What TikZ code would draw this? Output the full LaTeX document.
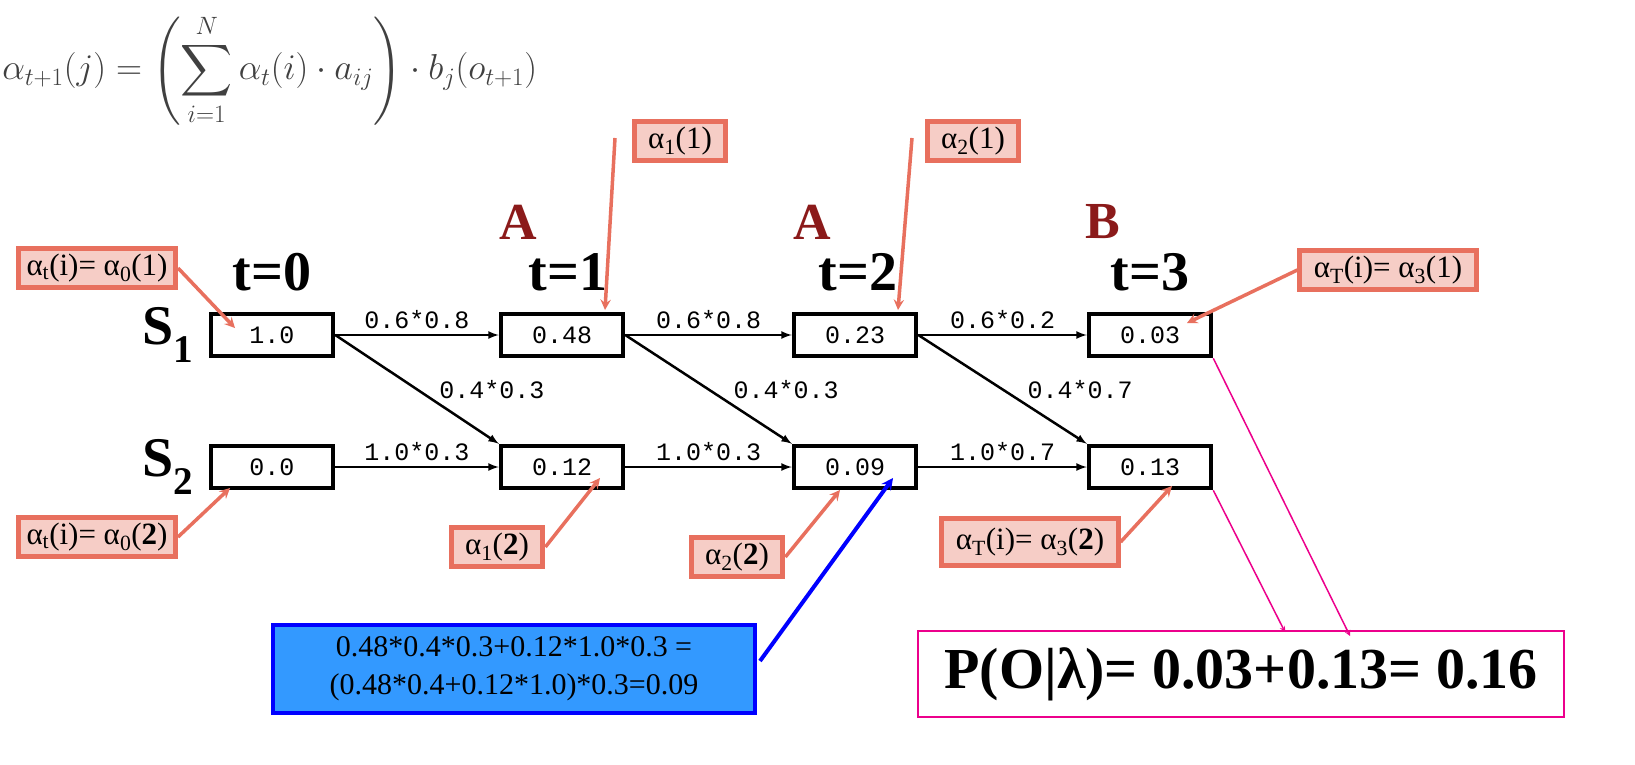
\documentclass[tikz,border=0pt]{standalone}
\usepackage{amsmath}
\usepackage{fontspec}
\setmainfont{Liberation Serif}
\setmonofont{Liberation Mono}
\usepackage{tikz}
\usetikzlibrary{arrows, positioning}
\definecolor{callred}{HTML}{E8705E}
\definecolor{callfill}{HTML}{F6CDC6}
\definecolor{darkred}{HTML}{8B1A1A}
\definecolor{bluefill}{HTML}{3399FF}

\tikzset{
    state/.style={draw, line width=4.5pt, minimum width=122pt, minimum height=42pt, font=\fontsize{25}{27}\selectfont\ttfamily},
    trans/.style={->, >=latex, line width=2.5pt},
    lab/.style={font=\fontsize{25}{27}\selectfont\ttfamily},
    call/.style={draw=callred, fill=callfill, line width=5pt, inner xsep=14pt, inner ysep=5pt, font=\fontsize{31}{33}\selectfont},
    callarrow/.style={->, >=stealth, draw=callred, line width=3.5pt},
    big/.style={font=\fontsize{56}{56}\selectfont\bfseries},
    obs/.style={text=darkred, font=\fontsize{52}{52}\selectfont\bfseries}
}

\begin{document}
\begin{tikzpicture}[x=1pt, y=-1pt]
    \useasboundingbox (0,0) rectangle (1635,765);

    % Formula
    \node [anchor=west, inner sep=0pt, text=black!75, scale=1.45, font=\fontsize{23}{25}\selectfont] (formula) at (2,70)
        {$\displaystyle \alpha_{t+1}(j)=\left(\sum_{i=1}^{N}\alpha_t(i)\cdot a_{ij}\right)\cdot b_j(o_{t+1})$};

    % States
    \node [state] (a10) at (272,335) {1.0};
    \node [state] (a11) at (562,335) {0.48};
    \node [state] (a12) at (855,335) {0.23};
    \node [state] (a13) at (1150,335) {0.03};
    \node [state] (a20) at (272,467) {0.0};
    \node [state] (a21) at (562,467) {0.12};
    \node [state] (a22) at (855,467) {0.09};
    \node [state] (a23) at (1150,467) {0.13};

    \node [big] (s1) at (168,335) {S\textsubscript{1}};
    \node [big] (s2) at (168,467) {S\textsubscript{2}};

    % Times and observations
    \node [big] (t0) at (272,272) {t=0};
    \node [big] (t1) at (568,272) {t=1};
    \node [big] (t2) at (858,272) {t=2};
    \node [big] (t3) at (1150,272) {t=3};
    \node [obs] (o1) at (518,222) {A};
    \node [obs] (o2) at (812,222) {A};
    \node [obs] (o3) at (1103,222) {B};

    % Transitions
    \draw [trans] (a10) -- (a11) node [lab, midway, above=2pt] {0.6*0.8};
    \draw [trans] (a11) -- (a12) node [lab, midway, above=2pt] {0.6*0.8};
    \draw [trans] (a12) -- (a13) node [lab, midway, above=2pt] {0.6*0.2};
    \draw [trans] (a20) -- (a21) node [lab, midway, above=2pt] {1.0*0.3};
    \draw [trans] (a21) -- (a22) node [lab, midway, above=2pt] {1.0*0.3};
    \draw [trans] (a22) -- (a23) node [lab, midway, above=2pt] {1.0*0.7};
    \draw [trans] (a10.east) -- (a21.north west);
    \draw [trans] (a11.east) -- (a22.north west);
    \draw [trans] (a12.east) -- (a23.north west);
    \node [lab] (l1) at (492,390) {0.4*0.3};
    \node [lab] (l2) at (786,390) {0.4*0.3};
    \node [lab] (l3) at (1080,390) {0.4*0.7};

    % Callouts
    \node [call] (c11) at (680,141) {α\textsubscript{1}(1)};
    \node [call] (c21) at (973,141) {α\textsubscript{2}(1)};
    \node [call, inner xsep=8pt] (c01) at (97,268) {α\textsubscript{t}(i)= α\textsubscript{0}(1)};
    \node [call] (c31) at (1388,270) {α\textsubscript{T}(i)= α\textsubscript{3}(1)};
    \node [call, inner xsep=8pt] (c02) at (97,537) {α\textsubscript{t}(i)= α\textsubscript{0}(\textbf{2})};
    \node [call] (c12) at (497,547) {α\textsubscript{1}(\textbf{2})};
    \node [call] (c22) at (737,557) {α\textsubscript{2}(\textbf{2})};
    \node [call, inner ysep=9pt] (c32) at (1030,542) {α\textsubscript{T}(i)= α\textsubscript{3}(\textbf{2})};

    \coordinate (p11) at (605,310);
    \coordinate (p21) at (898,310);
    \coordinate (p01) at (235,328);
    \coordinate (p31) at (1187,323);
    \coordinate (p02) at (230,488);
    \coordinate (p12) at (600,478);
    \coordinate (p22) at (840,490);
    \coordinate (p32) at (1172,486);
    \draw [callarrow] (615,138) -- (p11);
    \draw [callarrow] (912,138) -- (p21);
    \draw [callarrow] (c01.east) -- (p01);
    \draw [callarrow] (c31.west) -- (p31);
    \draw [callarrow] (c02.east) -- (p02);
    \draw [callarrow] (c12.east) -- (p12);
    \draw [callarrow] (c22.east) -- (p22);
    \draw [callarrow] (c32.east) -- (p32);

    % Worked sum
    \node [draw=blue, fill=bluefill, line width=4pt, minimum width=482pt, minimum height=88pt, align=center,
        font=\fontsize{30}{38}\selectfont] (sum) at (514,669)
        {0.48*0.4*0.3+0.12*1.0*0.3 =\\(0.48*0.4+0.12*1.0)*0.3=0.09};
    \coordinate (p09) at (893,478);
    \draw [->, >=stealth, draw=blue, line width=4pt] (sum.east) ++(3,-8) -- (p09);

    % Total
    \node [draw=magenta, line width=1.5pt, minimum width=646pt, minimum height=86pt,
        font=\fontsize{58}{60}\selectfont\bfseries] (total) at (1241,674) {P(O|λ)= 0.03+0.13= 0.16};
    \draw [->, >=stealth, magenta, line width=1.5pt] (a13.south east) -- (1350,636);
    \draw [->, >=stealth, magenta, line width=1.5pt] (a23.south east) -- (1285,632);
\end{tikzpicture}
\end{document}
